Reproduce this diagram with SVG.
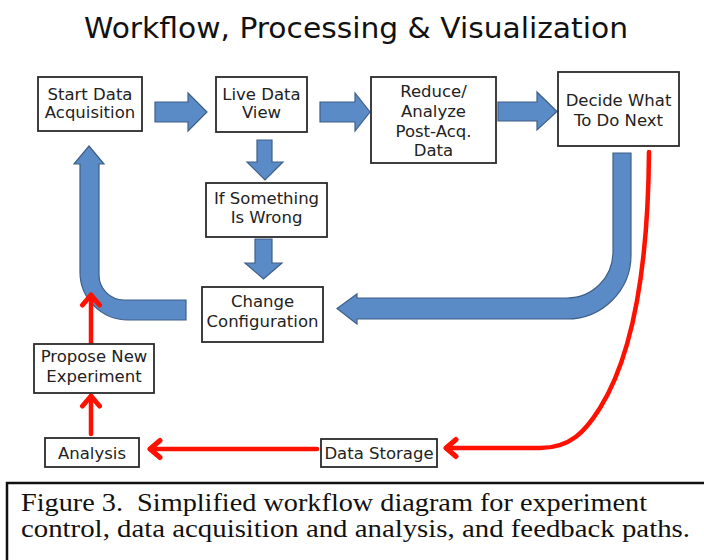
<svg xmlns="http://www.w3.org/2000/svg" width="704" height="560" viewBox="0 0 704 560">
<style>
.box rect{fill:#fff;stroke:#2b2b2b;stroke-width:1.8}
.box text{font-family:"DejaVu Sans",sans-serif;font-size:16.5px;fill:#222;text-anchor:middle}
.title{font-family:"DejaVu Sans",sans-serif;font-size:28px;fill:#111;text-anchor:middle}
.cap{font-family:"Liberation Serif",serif;font-size:25px;fill:#111}
.blue{fill:#5b8bc6;stroke:#3e5f88;stroke-width:1.2;stroke-linejoin:miter}
.red{fill:none;stroke:#ff1000;stroke-width:4.5;stroke-linecap:round}
</style>
<defs>
<marker id="rh" markerUnits="userSpaceOnUse" viewBox="0 0 24 24" refX="19" refY="12" markerWidth="24" markerHeight="24" orient="auto">
<path d="M9,3.5 L19,12 L9,20.5" fill="none" stroke="#ff1000" stroke-width="5" stroke-linecap="round" stroke-linejoin="round"/>
</marker>
</defs>
<rect width="704" height="560" fill="#fff"/>
<text class="title" x="356" y="38" textLength="544" lengthAdjust="spacingAndGlyphs">Workflow, Processing &amp; Visualization</text>

<g id="connectors">
<polygon class="blue" points="155,102 188,102 188,93 207,112 188,131 188,122 155,122"/>
<polygon class="blue" points="320,102 355,102 355,93 370,112 355,131 355,122 320,122"/>
<polygon class="blue" points="498,102 537,102 537,92 557,111.5 537,130 537,121 498,121"/>
<polygon class="blue" points="257,140 272,140 272,162 283,162 265,180 247,162 257,162"/>
<polygon class="blue" points="255,239 272,239 272,263 282,263 263.5,279 245,263 255,263"/>
<path class="blue" d="M89,146 L104,164 L99,164 L99,275 A25,25 0 0 0 124,300 L186,300 L186,320 L128,320 A48,48 0 0 1 80,272 L80,164 L74,164 Z"/>
<path class="blue" d="M613,153 L631,153 L631,255 A64,64 0 0 1 567,319 L357,319 L357,324 L337,308.5 L357,294 L357,298 L567,298 A46,46 0 0 0 613,252 Z"/>
<path class="red" d="M649,152 C648,280 630,360 600,408 C585,432 570,448 540,448 L446,448" marker-end="url(#rh)"/>
<path class="red" d="M317,449 L150,449" marker-end="url(#rh)"/>
<path class="red" d="M91,434 L91,396" marker-end="url(#rh)"/>
<path class="red" d="M91,344 L91,295" marker-end="url(#rh)"/>
</g>

<g id="start" class="box"><rect x="38" y="77" width="104" height="54"/><text x="90" y="100">Start Data</text><text x="90" y="118">Acquisition</text></g>
<g id="live" class="box"><rect x="216" y="77" width="91" height="55"/><text x="261.5" y="100">Live Data</text><text x="261.5" y="118">View</text></g>
<g id="reduce" class="box"><rect x="371" y="77" width="125" height="86"/><text x="433.5" y="97">Reduce/</text><text x="433.5" y="116.5">Analyze</text><text x="433.5" y="136.5">Post-Acq.</text><text x="433.5" y="156">Data</text></g>
<g id="decide" class="box"><rect x="558" y="72" width="121" height="74"/><text x="618.5" y="106">Decide What</text><text x="618.5" y="126">To Do Next</text></g>
<g id="wrong" class="box"><rect x="206" y="183" width="121" height="54"/><text x="266.5" y="204">If Something</text><text x="266.5" y="223">Is Wrong</text></g>
<g id="change" class="box"><rect x="202" y="287" width="121" height="55"/><text x="262.5" y="307">Change</text><text x="262.5" y="327">Configuration</text></g>
<g id="propose" class="box"><rect x="34" y="344" width="120" height="49"/><text x="94" y="362">Propose New</text><text x="94" y="382">Experiment</text></g>
<g id="analysis" class="box"><rect x="45" y="438" width="94" height="29"/><text x="92" y="459">Analysis</text></g>
<g id="storage" class="box"><rect x="321" y="439" width="116" height="28"/><text x="379" y="459">Data Storage</text></g>

<rect x="7" y="483" width="710" height="90" fill="none" stroke="#111" stroke-width="2.5"/>
<text class="cap" x="21" y="511" textLength="626" lengthAdjust="spacingAndGlyphs" xml:space="preserve">Figure 3.  Simplified workflow diagram for experiment</text>
<text class="cap" x="21" y="537" textLength="669" lengthAdjust="spacingAndGlyphs">control, data acquisition and analysis, and feedback paths.</text>
</svg>
